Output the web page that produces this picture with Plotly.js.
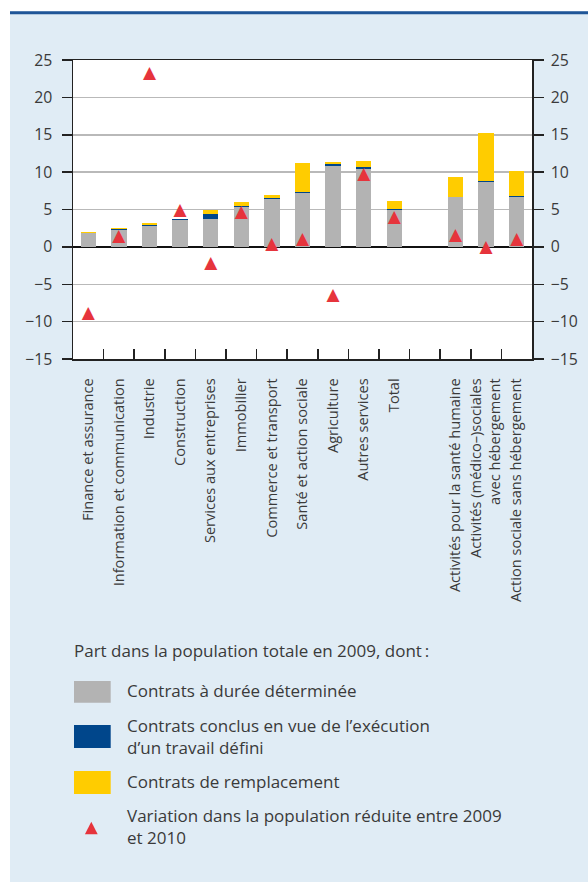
<!DOCTYPE html>
<html><head><meta charset="utf-8">
<script src="https://cdn.plot.ly/plotly-3.0.1.min.js"></script>
<style>html,body{margin:0;padding:0;background:#fff}</style>
</head><body><div id="chart" style="width:588px;height:882px"></div>
<script>
const categories = [
  "Finance et assurance",
  "Information et communication",
  "Industrie",
  "Construction",
  "Services aux entreprises",
  "Immobilier",
  "Commerce et transport",
  "Santé et action sociale",
  "Agriculture",
  "Autres services",
  "Total",
  " ",
  "Activités pour la santé humaine",
  "Activités (médico–)sociales<br>avec hébergement",
  "Action sociale sans hébergement"
];
const cdd           = [1.9, 2.3, 2.8, 3.6, 3.7, 5.35, 6.4, 7.2, 10.8, 10.4, 4.9, null, 6.65, 8.7, 6.7];
const travailDefini = [0.0, 0.12, 0.1, 0.12, 0.67, 0.12, 0.12, 0.12, 0.27, 0.27, 0.13, null, 0.0, 0.13, 0.13];
const remplacement  = [0.08, 0.12, 0.27, 0.0, 0.54, 0.5, 0.4, 3.9, 0.27, 0.8, 1.07, null, 2.68, 6.4, 3.3];
const variation     = [-9.0, 1.4, 23.1, 4.9, -2.2, 4.5, 0.3, 0.9, -6.6, 9.7, 3.9, null, 1.5, -0.1, 0.9];
const seriesNames = [
  "Contrats à durée déterminée",
  "Contrats conclus en vue de l’exécution<br>d’un travail défini",
  "Contrats de remplacement",
  "Variation dans la population réduite entre 2009<br>et 2010"
];
const legendTitle = "Part dans la population totale en 2009, dont\u2009:";
const yTicks = [-15, -10, -5, 0, 5, 10, 15, 20, 25];

const colors = {gray:'#b3b3b3', blue:'#00468b', yellow:'#ffcc00', red:'#e6343c', text:'#3a3a3a', panel:'#e0ecf5', line:'#1f5597'};
const FONT = '"Open Sans", "Noto Sans", sans-serif';

// pixel helpers (plot area in px)
const L = 73, R = 532, T = 60, B = 359;
const pw = R - L, ph = B - T;
const fx = p => (p - L) / pw;
const fy = p => (B - p) / ph;

const traces = [
  {type:'bar', x:categories, y:cdd, name:seriesNames[0], marker:{color:colors.gray}, hoverinfo:'y'},
  {type:'bar', x:categories, y:travailDefini, name:seriesNames[1], marker:{color:colors.blue}, hoverinfo:'y'},
  {type:'bar', x:categories, y:remplacement, name:seriesNames[2], marker:{color:colors.yellow}, hoverinfo:'y'},
  {type:'scatter', mode:'text', x:categories, y:variation, yaxis:'y2', name:seriesNames[3],
   text:variation.map(v => v === null ? '' : '▲'), textposition:'middle center',
   textfont:{family:'DejaVu Sans', size:17, color:colors.red}, cliponaxis:false, hoverinfo:'y'}
];

const shapes = [
  {type:'rect', xref:'paper', yref:'paper', x0:fx(0), x1:fx(10), y0:fy(882), y1:fy(0), fillcolor:'#ffffff', line:{width:0}, layer:'below'},
  {type:'rect', xref:'paper', yref:'paper', x0:fx(0), x1:fx(588), y0:fy(11.2), y1:fy(0), fillcolor:'#ffffff', line:{width:0}, layer:'below'},
  {type:'rect', xref:'paper', yref:'paper', x0:fx(10), x1:fx(588), y0:fy(14.2), y1:fy(11.2), fillcolor:colors.line, line:{width:0}, layer:'below'},
  {type:'rect', xref:'paper', yref:'paper', x0:fx(74), x1:fx(110.7), y0:fy(702.7), y1:fy(681), fillcolor:colors.gray, line:{width:0}},
  {type:'rect', xref:'paper', yref:'paper', x0:fx(74), x1:fx(110.7), y0:fy(748), y1:fy(725), fillcolor:colors.blue, line:{width:0}},
  {type:'rect', xref:'paper', yref:'paper', x0:fx(74), x1:fx(110.7), y0:fy(794), y1:fy(771), fillcolor:colors.yellow, line:{width:0}},
  {type:'path', xref:'paper', yref:'paper',
   path:`M${fx(84.9)},${fy(834.3)} L${fx(97.7)},${fy(834.3)} L${fx(91.3)},${fy(821.7)} Z`,
   fillcolor:colors.red, line:{width:0}}
];

const annFont = {family:FONT, size:17, color:colors.text};
const annotations = [
  {text:legendTitle, x:fx(71.5), y:fy(650), xanchor:'left', yanchor:'middle'},
  {text:seriesNames[0], x:fx(125), y:fy(690), xanchor:'left', yanchor:'middle'},
  {text:seriesNames[1], x:fx(125), y:fy(736.7), xanchor:'left', yanchor:'middle'},
  {text:seriesNames[2], x:fx(125), y:fy(781.5), xanchor:'left', yanchor:'middle'},
  {text:seriesNames[3], x:fx(125), y:fy(826.7), xanchor:'left', yanchor:'middle'}
].map(a => Object.assign({xref:'paper', yref:'paper', showarrow:false, align:'left', font:annFont}, a));

const yCommon = {
  range:[-15, 25], tickvals:yTicks, ticks:'outside', ticklen:10, tickwidth:1.5, tickcolor:'#222',
  showline:true, linecolor:'#222', linewidth:1.5,
  tickfont:{family:FONT, size:15.8, color:colors.text}, fixedrange:true
};

const layout = {
  width:588, height:882,
  margin:{l:L, r:588 - R, t:T, b:882 - B},
  paper_bgcolor:colors.panel, plot_bgcolor:'#ffffff',
  barmode:'stack', bargap:0.5, showlegend:false,
  font:{family:FONT, color:colors.text},
  xaxis:{
    type:'category', categoryorder:'array', categoryarray:categories, range:[-0.5, categories.length - 0.5],
    ticks:'inside', tickson:'boundaries', ticklen:10, tickwidth:1.5, tickcolor:'#222',
    showline:true, linecolor:'#222', linewidth:1.5, mirror:true, showgrid:false,
    tickangle:-90, tickfont:{family:FONT, size:14.6, color:colors.text}, ticklabelstandoff:12, fixedrange:true
  },
  yaxis:Object.assign({}, yCommon, {
    showgrid:true, gridcolor:'#b9b9b9', gridwidth:1.5, zeroline:true, zerolinecolor:'#111', zerolinewidth:2,
    ticklabelstandoff:6
  }),
  yaxis2:Object.assign({}, yCommon, {
    overlaying:'y', side:'right', showgrid:false, zeroline:false, ticklabelstandoff:4
  }),
  shapes:shapes, annotations:annotations
};

Plotly.newPlot('chart', traces, layout, {displayModeBar:false, staticPlot:true});
</script>
</body></html>
